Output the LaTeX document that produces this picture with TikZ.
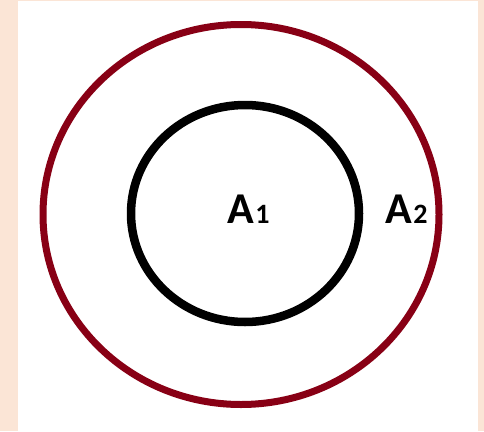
\documentclass[tikz,border=0pt]{standalone}
\usepackage{fontspec}
\setmainfont{Carlito}
\definecolor{peach}{HTML}{FBE5D6}
\definecolor{darkred}{HTML}{880015}
\begin{document}
\begin{tikzpicture}[x=1pt,y=-1pt,
  lbl/.style={font=\bfseries\fontsize{44}{44}\selectfont, inner sep=0pt, anchor=base west},
  ring/.style={line width=7pt}]
\fill[peach] (0,0) rectangle (484,431);
\fill[white] (18,1) rectangle (478,431);
\useasboundingbox (0,0) rectangle (484,431);
\draw[ring, darkred] (241,214.5) ellipse [x radius=198, y radius=190];
\draw[line width=8.5pt, black] (245,213.5) ellipse [x radius=114, y radius=108.5];
\node[lbl] (a1) at (227,223) {A\kern1.5pt{\fontsize{28}{28}\selectfont 1}};
\node[lbl] (a2) at (385,223) {A\kern1.5pt{\fontsize{28}{28}\selectfont 2}};
\end{tikzpicture}
\end{document}
